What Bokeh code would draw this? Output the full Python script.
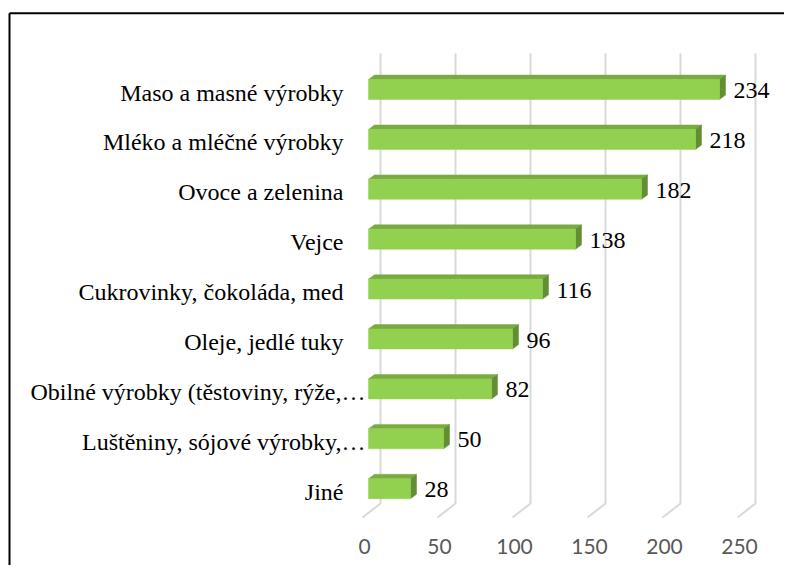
from bokeh.plotting import figure
from bokeh.models import Range1d, ColumnDataSource
from bokeh.core.properties import value
from bokeh.embed import file_html
from bokeh.resources import INLINE

# ---- data ----
categories = ["Maso a masné výrobky", "Mléko a mléčné výrobky", "Ovoce a zelenina",
              "Vejce", "Cukrovinky, čokoláda, med", "Oleje, jedlé tuky",
              "Obilné výrobky (těstoviny, rýže,…", "Luštěniny, sójové výrobky,…", "Jiné"]
values = [234, 218, 182, 138, 116, 96, 82, 50, 28]
x_ticks = [0, 50, 100, 150, 200, 250]
x_tick_labels = ["0", "50", "100", "150", "200", "250"]

# ---- geometry (picture pixels -> data units) ----
W, H = 784, 565
OFF = 0                  # picture x/y of canvas origin
PX = 1.5                 # px per value unit
PY = 49.9                # px per category row
X0_PAGE = 364            # picture x of value 0 on the axis
Y0_PAGE = 89             # picture y of first bar's front-face centre


def xu(page_x):
    return (page_x - X0_PAGE) / PX


def yu(page_y):
    return (page_y - Y0_PAGE) / PY


p = figure(width=W, height=H, output_backend="svg", toolbar_location=None,
           x_range=Range1d(xu(OFF), xu(OFF + W)),
           y_range=Range1d(yu(OFF + H), yu(OFF)),
           x_axis_location=None, y_axis_location=None,
           min_border=0, min_border_left=0, min_border_right=0,
           min_border_top=0, min_border_bottom=0)
p.outline_line_color = None
p.xgrid.visible = False
p.ygrid.visible = False
p.background_fill_color = "white"
p.border_fill_color = "white"

# ---- 3D gridlines: back wall verticals + floor slant ----
g_top, g_bot, g_front = yu(53), yu(503), yu(517)
back, front = 16 / PX, -2 / PX
gxs = [[t + back, t + back, t + front] for t in x_ticks]
gys = [[g_top, g_bot, g_front] for _ in x_ticks]
p.multi_line(xs=gxs, ys=gys, line_color="#d9d9d9", line_width=2)

# ---- 3D bars ----
idx = list(range(len(categories)))
off = 4 / PX             # bar front face starts 4px right of axis zero
dx = 6 / PX              # depth offset to the right
dy = 4.4 / PY            # depth offset upwards
half = 10 / PY
lefts = [off for _ in values]
rights = [v + off for v in values]
tops = [i - half for i in idx]
bots = [i + half for i in idx]

top_xs = [[l, r, r + dx, l + dx] for l, r in zip(lefts, rights)]
top_ys = [[t, t, t - dy, t - dy] for t in tops]
side_xs = [[r, r, r + dx, r + dx] for r in rights]
side_ys = [[t, b, b - dy, t - dy] for t, b in zip(tops, bots)]

p.patches(xs=top_xs, ys=top_ys, fill_color="#7aab43", line_color="#7aab43", line_width=0.5)
p.patches(xs=side_xs, ys=side_ys, fill_color="#628f33", line_color="#628f33", line_width=0.5)
p.quad(left=lefts, right=rights, top=tops, bottom=bots,
       fill_color="#92d050", line_color="#92d050", line_width=0.5)

serif = value("Liberation Serif")

# ---- value labels ----
vsrc = ColumnDataSource(dict(x=values, y=idx, t=[str(v) for v in values]))
p.text(x="x", y="y", text="t", source=vsrc, x_offset=18, y_offset=1,
       text_baseline="alphabetic", text_align="left",
       text_font=serif, text_font_size="24px", text_color="#000000")

# ---- category labels (left axis); truncated labels get a wider box, as in Excel ----
cat_x = [xu(365) if c.endswith("…") else xu(343) for c in categories]
csrc = ColumnDataSource(dict(x=cat_x, y=idx, t=categories))
p.text(x="x", y="y", text="t", source=csrc, y_offset=3,
       text_baseline="alphabetic", text_align="right",
       text_font=serif, text_font_size="24px", text_color="#000000")

# ---- value axis tick labels ----
tsrc = ColumnDataSource(dict(x=x_ticks, y=[yu(546)] * len(x_ticks), t=x_tick_labels))
p.text(x="x", y="y", text="t", source=tsrc,
       text_baseline="alphabetic", text_align="center",
       text_font=value("Lato"), text_font_size="21px", text_color="#595959")

# ---- chart border (left and top edges visible) ----
bx, by = xu(9), yu(12.7)
p.line(x=[bx, bx], y=[yu(OFF + H + 5), by], line_color="black", line_width=2)
p.line(x=[bx, xu(OFF + W + 5)], y=[by, by], line_color="black", line_width=2)

open("out.html", "w").write(file_html(p, INLINE))
